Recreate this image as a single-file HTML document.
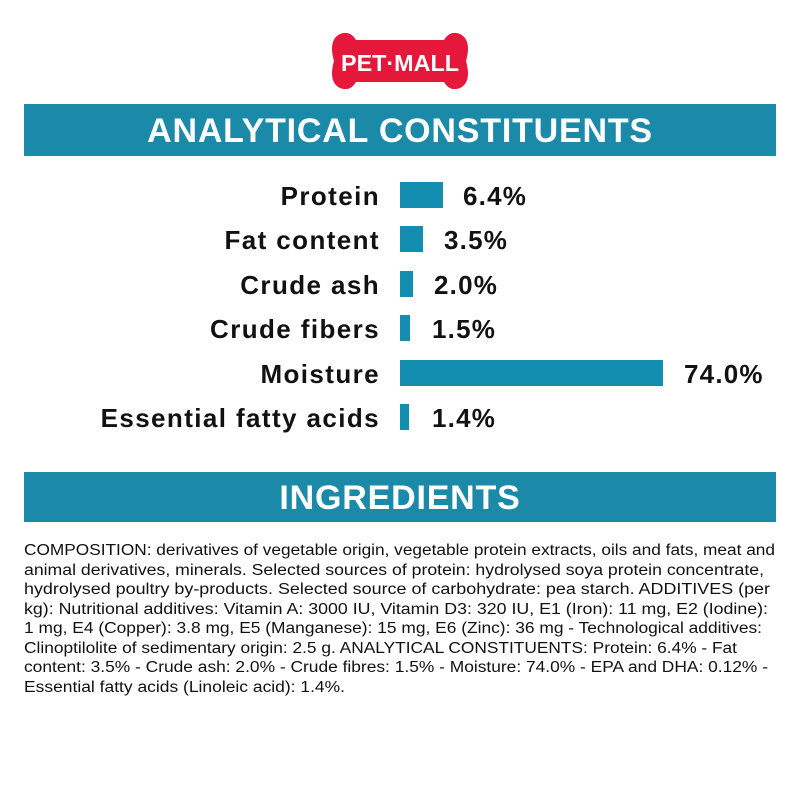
<!DOCTYPE html>
<html><head><style>
body{margin:0;width:800px;height:800px;background:#fff;position:relative;font-family:"Liberation Sans",sans-serif;overflow:hidden}
.band{position:absolute;left:24px;width:752px;background:#1a8aa8;color:#fff;font-weight:bold;text-align:center;font-size:34px;letter-spacing:0.8px}
.lab{position:absolute;right:420px;font-weight:bold;font-size:26px;letter-spacing:1.4px;color:#111;line-height:28px}
.bar{position:absolute;left:400px;height:26px;background:#138db0}
.val{position:absolute;font-weight:bold;font-size:26px;letter-spacing:1.2px;color:#111;line-height:28px}
</style></head><body>
<svg style="position:absolute;left:326px;top:30px" width="148" height="62" viewBox="0 0 148 62">
<path d="M14 4 Q24 0 30 10 L118 10 Q124 0 134 4 Q146 10 140 31 Q146 52 134 58 Q124 62 118 52 L30 52 Q24 62 14 58 Q2 52 8 31 Q2 10 14 4Z" fill="#e5183c"/>
<text x="74" y="41" text-anchor="middle" fill="#fff" font-family="Liberation Sans" font-weight="bold" font-size="23" textLength="118" lengthAdjust="spacingAndGlyphs">PET·MALL</text>
</svg>
<div class="band" style="top:104px;height:52px;line-height:54px">ANALYTICAL CONSTITUENTS</div>
<div class="lab" style="top:182px">Protein</div><div class="bar" style="top:182px;width:43px"></div><div class="val" style="top:182px;left:463px">6.4%</div>
<div class="lab" style="top:226px">Fat content</div><div class="bar" style="top:226px;width:23px"></div><div class="val" style="top:226px;left:444px">3.5%</div>
<div class="lab" style="top:271px">Crude ash</div><div class="bar" style="top:271px;width:13px"></div><div class="val" style="top:271px;left:434px">2.0%</div>
<div class="lab" style="top:315px">Crude fibers</div><div class="bar" style="top:315px;width:10px"></div><div class="val" style="top:315px;left:432px">1.5%</div>
<div class="lab" style="top:360px">Moisture</div><div class="bar" style="top:360px;width:263px"></div><div class="val" style="top:360px;left:684px">74.0%</div>
<div class="lab" style="top:404px">Essential fatty acids</div><div class="bar" style="top:404px;width:9px"></div><div class="val" style="top:404px;left:432px">1.4%</div>
<div class="band" style="top:472px;height:50px;line-height:52px">INGREDIENTS</div>
<svg style="position:absolute;left:0;top:0" width="800" height="800" font-family="Liberation Sans" font-size="15.5" fill="#111">
<text x="24" y="555" textLength="751" lengthAdjust="spacingAndGlyphs">COMPOSITION: derivatives of vegetable origin, vegetable protein extracts, oils and fats, meat and</text>
<text x="24" y="575" textLength="740" lengthAdjust="spacingAndGlyphs">animal derivatives, minerals. Selected sources of protein: hydrolysed soya protein concentrate,</text>
<text x="24" y="594" textLength="746" lengthAdjust="spacingAndGlyphs">hydrolysed poultry by-products. Selected source of carbohydrate: pea starch. ADDITIVES (per</text>
<text x="24" y="614" textLength="744" lengthAdjust="spacingAndGlyphs">kg): Nutritional additives: Vitamin A: 3000 IU, Vitamin D3: 320 IU, E1 (Iron): 11 mg, E2 (Iodine):</text>
<text x="24" y="633" textLength="738" lengthAdjust="spacingAndGlyphs">1 mg, E4 (Copper): 3.8 mg, E5 (Manganese): 15 mg, E6 (Zinc): 36 mg - Technological additives:</text>
<text x="24" y="653" textLength="713" lengthAdjust="spacingAndGlyphs">Clinoptilolite of sedimentary origin: 2.5 g. ANALYTICAL CONSTITUENTS: Protein: 6.4% - Fat</text>
<text x="24" y="672" textLength="744" lengthAdjust="spacingAndGlyphs">content: 3.5% - Crude ash: 2.0% - Crude fibres: 1.5% - Moisture: 74.0% - EPA and DHA: 0.12% -</text>
<text x="24" y="692" textLength="321" lengthAdjust="spacingAndGlyphs">Essential fatty acids (Linoleic acid): 1.4%.</text>
</svg>
</body></html>
